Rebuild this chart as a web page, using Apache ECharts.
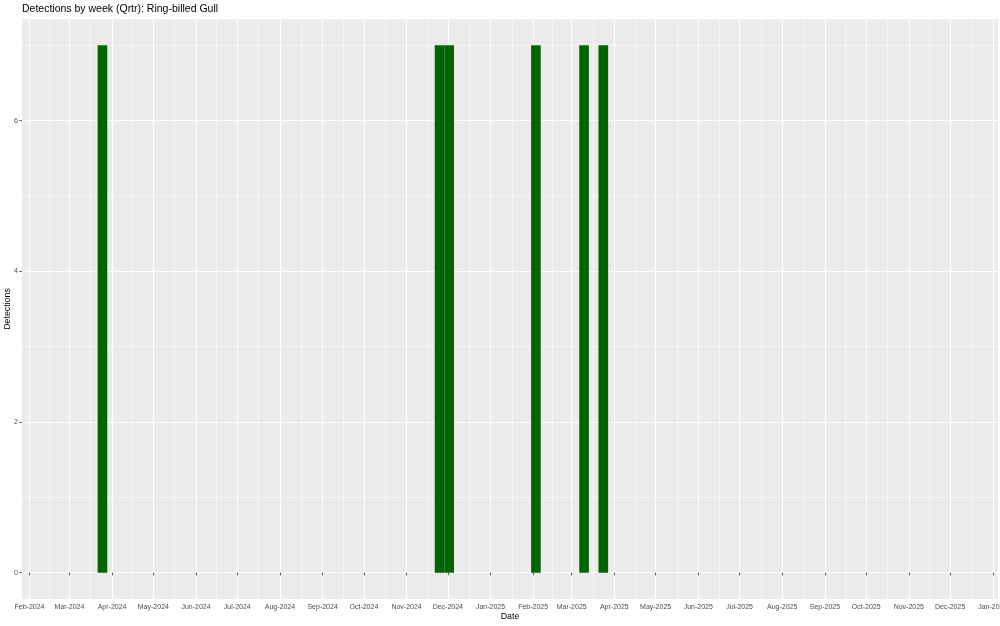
<!DOCTYPE html>
<html>
<head>
<meta charset="utf-8">
<script src="https://cdn.jsdelivr.net/npm/echarts@6/dist/echarts.min.js"></script>
<style>
html,body{margin:0;padding:0;background:#fff;}
#chart{width:1000px;height:626px;}
</style>
</head>
<body>
<div id="chart"></div>
<script>
// ---- data (week start dates, Monday) ----
var weeks = ['2024-03-25', '2024-11-25', '2024-12-02', '2025-02-03', '2025-03-10', '2025-03-24'];
var detections = [7, 7, 7, 7, 7, 7];

// ---- tick labels ----
var monthBreaks = ['2024-02-01','2024-03-01','2024-04-01','2024-05-01','2024-06-01','2024-07-01',
  '2024-08-01','2024-09-01','2024-10-01','2024-11-01','2024-12-01','2025-01-01',
  '2025-02-01','2025-03-01','2025-04-01','2025-05-01','2025-06-01','2025-07-01',
  '2025-08-01','2025-09-01','2025-10-01','2025-11-01','2025-12-01','2026-01-01'];
var monthNames = ['Jan','Feb','Mar','Apr','May','Jun','Jul','Aug','Sep','Oct','Nov','Dec'];
var yBreaks = [0, 2, 4, 6];
var yMinorBreaks = [1, 3, 5, 7];

var DAY = 86400000;
function ts(s) { var p = s.split('-'); return Date.UTC(+p[0], +p[1] - 1, +p[2]); }
var majorX = monthBreaks.map(ts);
var minorX = [];
for (var i = 0; i < majorX.length - 1; i++) minorX.push((majorX[i] + majorX[i + 1]) / 2);

var xMin = ts('2024-02-01') - 5.45 * DAY;
var xMax = ts('2026-01-01') + 3.8 * DAY;

var barData = weeks.map(function (w, i) { return [ts(w), detections[i]]; });

var chart = echarts.init(document.getElementById('chart'), null, { renderer: 'canvas' });
var FONT = 'Liberation Sans, Arial, Helvetica, sans-serif';

var option = {
  backgroundColor: '#ffffff',
  animation: false,
  title: {
    text: 'Detections by week (Qrtr): Ring-billed Gull',
    left: 22, top: 3.5, padding: 0,
    textStyle: { fontFamily: FONT, fontSize: 10.5, fontWeight: 'normal', color: '#000000' }
  },
  grid: {
    left: 22, right: 2, top: 19, bottom: 27,
    containLabel: false, outerBoundsMode: 'none',
    show: true, backgroundColor: '#EBEBEB', borderWidth: 0
  },
  xAxis: [{
    type: 'value', min: xMin, max: xMax,
    name: 'Date', nameLocation: 'middle', nameGap: 13.5, nameMoveOverlap: false,
    nameTextStyle: { fontFamily: FONT, fontSize: 8.8, color: '#000000' },
    axisLine: { show: false },
    axisTick: { show: true, length: 2.7, customValues: majorX, lineStyle: { color: '#333333', width: 0.8 } },
    axisLabel: {
      customValues: majorX, margin: 4.5, fontFamily: FONT, fontSize: 7, color: '#4D4D4D',
      formatter: function (v) { var d = new Date(v); return monthNames[d.getUTCMonth()] + '-' + d.getUTCFullYear(); }
    },
    splitLine: { show: true, lineStyle: { color: '#FFFFFF', width: 1.1 } }
  }, {
    type: 'value', min: xMin, max: xMax, position: 'bottom',
    axisLine: { show: false },
    axisTick: { show: false, customValues: minorX },
    axisLabel: { show: false, customValues: minorX },
    splitLine: { show: true, lineStyle: { color: '#FFFFFF', width: 0.55 } }
  }],
  yAxis: [{
    type: 'value', min: -0.35, max: 7.35,
    name: 'Detections', nameLocation: 'middle', nameGap: 9.5, nameRotate: 90, nameMoveOverlap: false,
    nameTextStyle: { fontFamily: FONT, fontSize: 8.8, color: '#000000' },
    axisLine: { show: false },
    axisTick: { show: true, length: 2.7, customValues: yBreaks, lineStyle: { color: '#333333', width: 0.8 } },
    axisLabel: { customValues: yBreaks, margin: 4, fontFamily: FONT, fontSize: 7, color: '#4D4D4D' },
    splitLine: { show: true, lineStyle: { color: '#FFFFFF', width: 1.1 } }
  }, {
    type: 'value', min: -0.35, max: 7.35, position: 'left',
    axisLine: { show: false },
    axisTick: { show: false, customValues: yMinorBreaks },
    axisLabel: { show: false, customValues: yMinorBreaks },
    splitLine: { show: true, lineStyle: { color: '#FFFFFF', width: 0.55 } }
  }],
  series: [{
    type: 'custom',
    xAxisIndex: 0, yAxisIndex: 0,
    data: barData,
    renderItem: function (params, api) {
      var c = api.value(0), v = api.value(1);
      var p0 = api.coord([c - 3.5 * DAY, v]);
      var p1 = api.coord([c + 3.5 * DAY, 0]);
      return {
        type: 'rect',
        shape: { x: p0[0], y: p0[1], width: p1[0] - p0[0], height: p1[1] - p0[1] },
        style: { fill: '#006400' }
      };
    }
  }]
};
chart.setOption(option);
</script>
</body>
</html>
